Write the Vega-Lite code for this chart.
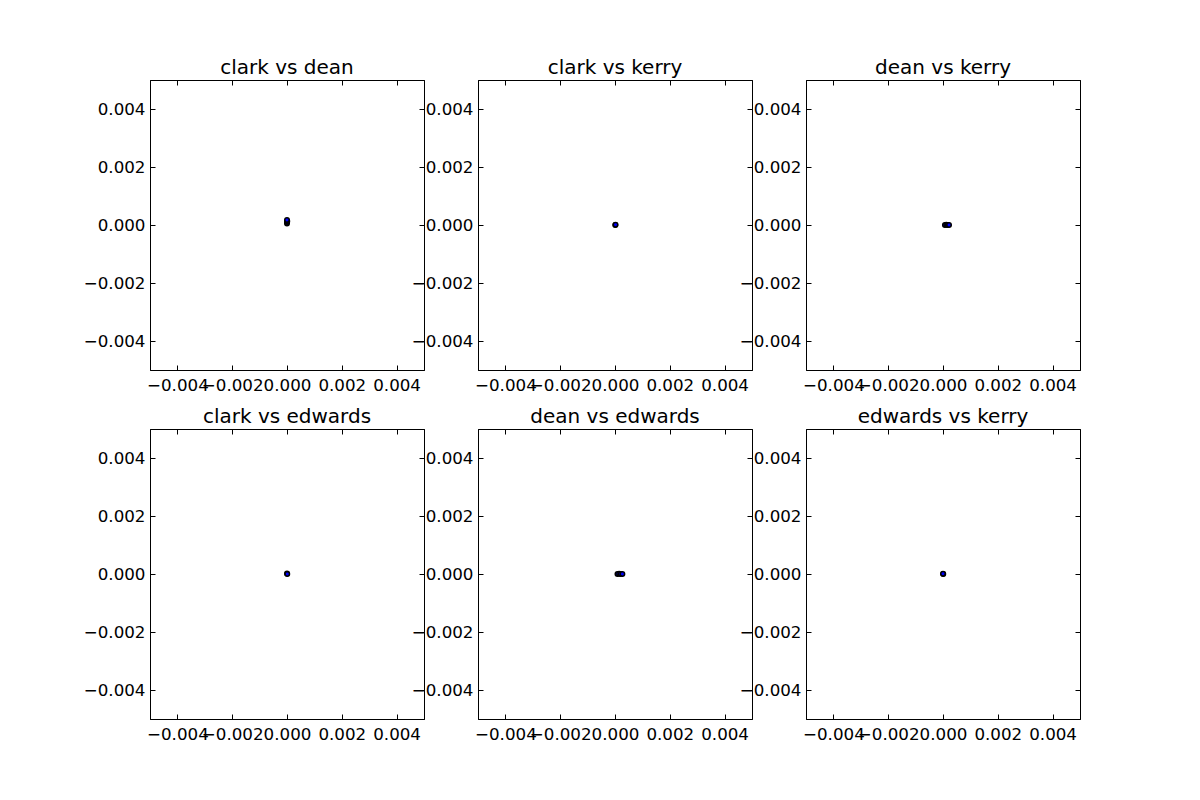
{
  "$schema": "https://vega.github.io/schema/vega-lite/v6.json",
  "padding": {"left": 82, "top": 57, "right": 5, "bottom": 5},
  "background": "white",
  "datasets": {
    "pts": [
      {"panel": "clark vs dean", "x": 0.0, "y": 0.00005},
      {"panel": "clark vs dean", "x": 0.0, "y": 0.0001},
      {"panel": "clark vs dean", "x": 0.00001, "y": 0.00013},
      {"panel": "clark vs dean", "x": 0.0, "y": 0.00017},
      {"panel": "clark vs kerry", "x": 0.00001, "y": 0.0},
      {"panel": "clark vs kerry", "x": 0.00002, "y": 0.00001},
      {"panel": "dean vs kerry", "x": 0.00007, "y": 0.0},
      {"panel": "dean vs kerry", "x": 0.00012, "y": 0.00001},
      {"panel": "dean vs kerry", "x": 0.00017, "y": 0.0},
      {"panel": "dean vs kerry", "x": 0.00022, "y": 0.0},
      {"panel": "clark vs edwards", "x": 0.0, "y": 0.00002},
      {"panel": "clark vs edwards", "x": 0.00001, "y": 0.0},
      {"panel": "dean vs edwards", "x": 0.00009, "y": 0.0},
      {"panel": "dean vs edwards", "x": 0.00015, "y": 0.00001},
      {"panel": "dean vs edwards", "x": 0.00021, "y": 0.0},
      {"panel": "dean vs edwards", "x": 0.00027, "y": 0.0},
      {"panel": "edwards vs kerry", "x": 0.00001, "y": 0.0},
      {"panel": "edwards vs kerry", "x": 0.0, "y": 0.00001}
    ]
  },
  "data": {"name": "pts"},
  "columns": 3,
  "spacing": {"row": 59, "column": 54},
  "bounds": "flush",
  "concat": [
    {
      "title": {"text": "clark vs dean"},
      "width": 274, "height": 290,
      "transform": [{"filter": "datum.panel === 'clark vs dean'"}],
      "layer": [
        {"mark": {"type": "circle"},
         "encoding": {
           "x": {"field": "x", "type": "quantitative", "scale": {"domain": [-0.005, 0.005], "nice": false, "zero": false}, "axis": {"orient": "bottom", "values": [-0.004, -0.002, 0, 0.002, 0.004], "format": ".3f"}},
           "y": {"field": "y", "type": "quantitative", "scale": {"domain": [-0.005, 0.005], "nice": false, "zero": false}, "axis": {"orient": "left", "values": [-0.004, -0.002, 0, 0.002, 0.004], "format": ".3f"}}
         }},
        {"mark": {"type": "circle", "opacity": 0},
         "encoding": {
           "x": {"field": "x", "type": "quantitative", "axis": {"orient": "top", "labels": false, "values": [-0.004, -0.002, 0, 0.002, 0.004]}},
           "y": {"field": "y", "type": "quantitative", "axis": {"orient": "right", "labels": false, "values": [-0.004, -0.002, 0, 0.002, 0.004]}}
         }}
      ]
    },
    {
      "title": {"text": "clark vs kerry"},
      "width": 274, "height": 290,
      "transform": [{"filter": "datum.panel === 'clark vs kerry'"}],
      "layer": [
        {"mark": {"type": "circle"},
         "encoding": {
           "x": {"field": "x", "type": "quantitative", "scale": {"domain": [-0.005, 0.005], "nice": false, "zero": false}, "axis": {"orient": "bottom", "values": [-0.004, -0.002, 0, 0.002, 0.004], "format": ".3f"}},
           "y": {"field": "y", "type": "quantitative", "scale": {"domain": [-0.005, 0.005], "nice": false, "zero": false}, "axis": {"orient": "left", "values": [-0.004, -0.002, 0, 0.002, 0.004], "format": ".3f"}}
         }},
        {"mark": {"type": "circle", "opacity": 0},
         "encoding": {
           "x": {"field": "x", "type": "quantitative", "axis": {"orient": "top", "labels": false, "values": [-0.004, -0.002, 0, 0.002, 0.004]}},
           "y": {"field": "y", "type": "quantitative", "axis": {"orient": "right", "labels": false, "values": [-0.004, -0.002, 0, 0.002, 0.004]}}
         }}
      ]
    },
    {
      "title": {"text": "dean vs kerry"},
      "width": 274, "height": 290,
      "transform": [{"filter": "datum.panel === 'dean vs kerry'"}],
      "layer": [
        {"mark": {"type": "circle"},
         "encoding": {
           "x": {"field": "x", "type": "quantitative", "scale": {"domain": [-0.005, 0.005], "nice": false, "zero": false}, "axis": {"orient": "bottom", "values": [-0.004, -0.002, 0, 0.002, 0.004], "format": ".3f"}},
           "y": {"field": "y", "type": "quantitative", "scale": {"domain": [-0.005, 0.005], "nice": false, "zero": false}, "axis": {"orient": "left", "values": [-0.004, -0.002, 0, 0.002, 0.004], "format": ".3f"}}
         }},
        {"mark": {"type": "circle", "opacity": 0},
         "encoding": {
           "x": {"field": "x", "type": "quantitative", "axis": {"orient": "top", "labels": false, "values": [-0.004, -0.002, 0, 0.002, 0.004]}},
           "y": {"field": "y", "type": "quantitative", "axis": {"orient": "right", "labels": false, "values": [-0.004, -0.002, 0, 0.002, 0.004]}}
         }}
      ]
    },
    {
      "title": {"text": "clark vs edwards"},
      "width": 274, "height": 290,
      "transform": [{"filter": "datum.panel === 'clark vs edwards'"}],
      "layer": [
        {"mark": {"type": "circle"},
         "encoding": {
           "x": {"field": "x", "type": "quantitative", "scale": {"domain": [-0.005, 0.005], "nice": false, "zero": false}, "axis": {"orient": "bottom", "values": [-0.004, -0.002, 0, 0.002, 0.004], "format": ".3f"}},
           "y": {"field": "y", "type": "quantitative", "scale": {"domain": [-0.005, 0.005], "nice": false, "zero": false}, "axis": {"orient": "left", "values": [-0.004, -0.002, 0, 0.002, 0.004], "format": ".3f"}}
         }},
        {"mark": {"type": "circle", "opacity": 0},
         "encoding": {
           "x": {"field": "x", "type": "quantitative", "axis": {"orient": "top", "labels": false, "values": [-0.004, -0.002, 0, 0.002, 0.004]}},
           "y": {"field": "y", "type": "quantitative", "axis": {"orient": "right", "labels": false, "values": [-0.004, -0.002, 0, 0.002, 0.004]}}
         }}
      ]
    },
    {
      "title": {"text": "dean vs edwards"},
      "width": 274, "height": 290,
      "transform": [{"filter": "datum.panel === 'dean vs edwards'"}],
      "layer": [
        {"mark": {"type": "circle"},
         "encoding": {
           "x": {"field": "x", "type": "quantitative", "scale": {"domain": [-0.005, 0.005], "nice": false, "zero": false}, "axis": {"orient": "bottom", "values": [-0.004, -0.002, 0, 0.002, 0.004], "format": ".3f"}},
           "y": {"field": "y", "type": "quantitative", "scale": {"domain": [-0.005, 0.005], "nice": false, "zero": false}, "axis": {"orient": "left", "values": [-0.004, -0.002, 0, 0.002, 0.004], "format": ".3f"}}
         }},
        {"mark": {"type": "circle", "opacity": 0},
         "encoding": {
           "x": {"field": "x", "type": "quantitative", "axis": {"orient": "top", "labels": false, "values": [-0.004, -0.002, 0, 0.002, 0.004]}},
           "y": {"field": "y", "type": "quantitative", "axis": {"orient": "right", "labels": false, "values": [-0.004, -0.002, 0, 0.002, 0.004]}}
         }}
      ]
    },
    {
      "title": {"text": "edwards vs kerry"},
      "width": 274, "height": 290,
      "transform": [{"filter": "datum.panel === 'edwards vs kerry'"}],
      "layer": [
        {"mark": {"type": "circle"},
         "encoding": {
           "x": {"field": "x", "type": "quantitative", "scale": {"domain": [-0.005, 0.005], "nice": false, "zero": false}, "axis": {"orient": "bottom", "values": [-0.004, -0.002, 0, 0.002, 0.004], "format": ".3f"}},
           "y": {"field": "y", "type": "quantitative", "scale": {"domain": [-0.005, 0.005], "nice": false, "zero": false}, "axis": {"orient": "left", "values": [-0.004, -0.002, 0, 0.002, 0.004], "format": ".3f"}}
         }},
        {"mark": {"type": "circle", "opacity": 0},
         "encoding": {
           "x": {"field": "x", "type": "quantitative", "axis": {"orient": "top", "labels": false, "values": [-0.004, -0.002, 0, 0.002, 0.004]}},
           "y": {"field": "y", "type": "quantitative", "axis": {"orient": "right", "labels": false, "values": [-0.004, -0.002, 0, 0.002, 0.004]}}
         }}
      ]
    }
  ],
  "config": {
    "view": {"stroke": "black", "strokeWidth": 1},
    "font": "DejaVu Sans",
    "title": {"font": "DejaVu Sans", "fontSize": 20, "fontWeight": "normal", "color": "black", "baseline": "alphabetic", "offset": 2, "anchor": "middle"},
    "circle": {"size": 20, "fill": "#0000ff", "stroke": "black", "strokeWidth": 1.5, "opacity": 1},
    "axis": {
      "title": null,
      "grid": false,
      "domainColor": "black",
      "domainWidth": 1,
      "tickColor": "black",
      "tickWidth": 1,
      "tickSize": -5,
      "labelFont": "DejaVu Sans",
      "labelFontSize": 16.7,
      "labelColor": "black",
      "labelFlush": false,
      "labelOverlap": false,
      "labelPadding": 10
    },
    "axisX": {"labelPadding": 12}
  }
}
